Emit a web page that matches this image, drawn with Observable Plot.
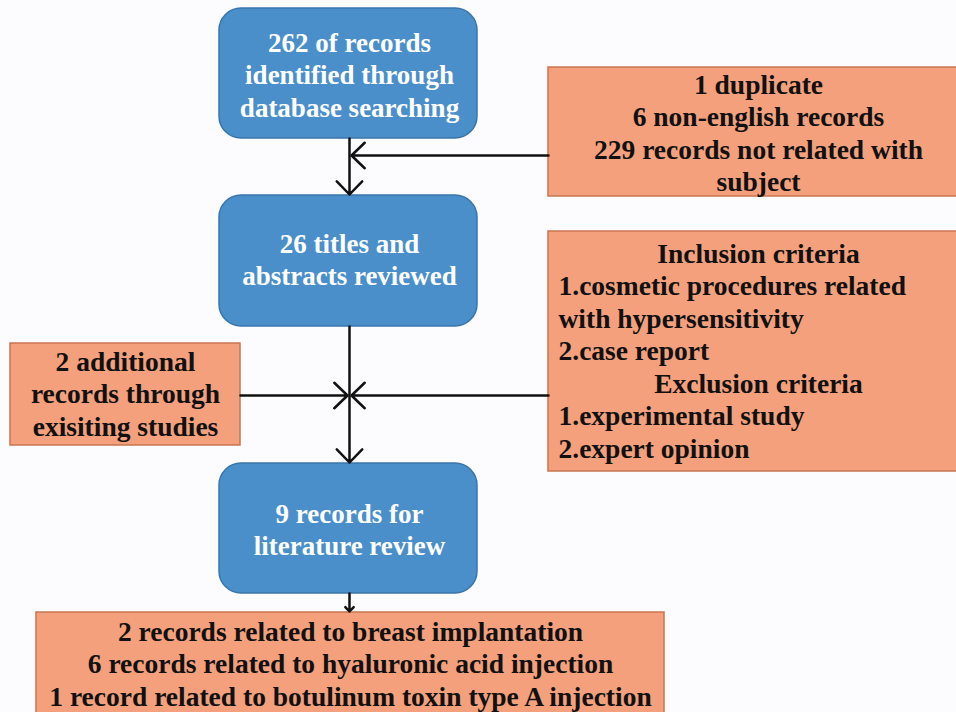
<!DOCTYPE html>
<html>
<head>
<meta charset="utf-8">
<script src="https://cdn.jsdelivr.net/npm/d3@7"></script>
<script src="https://cdn.jsdelivr.net/npm/@observablehq/plot@0.6"></script>
<style>
  html, body { margin: 0; padding: 0; background: #fcfcfe; overflow: hidden; }
  #chart svg { display: block; }
</style>
</head>
<body>
<div id="chart"></div>
<script>
// ---- content (text of each flowchart node) ----
const nodeIds = ["search", "screen", "review", "excluded", "criteria", "additional", "result"];
const nodeKinds = ["main", "main", "main", "side", "side", "side", "side"];
const nodeLines = [
  ["262 of records", "identified through", "database searching"],
  ["26 titles and", "abstracts reviewed"],
  ["9 records for", "literature review"],
  ["1 duplicate", "6 non-english records", "229 records not related with", "subject"],
  ["Inclusion criteria", "1.cosmetic procedures related", "with hypersensitivity", "2.case report",
   "Exclusion criteria", "1.experimental study", "2.expert opinion"],
  ["2 additional", "records through", "exisiting studies"],
  ["2 records related to breast implantation", "6 records related to hyaluronic acid injection",
   "1 record related to botulinum toxin type A injection"]
];
// alignment of lines in the criteria box: headings centred, items left
const criteriaAlign = ["middle", "start", "start", "start", "middle", "start", "start"];

// ---- layout (page units, y downward) ----
const layout = {
  search:     {x1: 219, x2: 477, y1: 8,   y2: 138, cx: 349, cy: 75},
  screen:     {x1: 219, x2: 477, y1: 195, y2: 326, cx: 349, cy: 260},
  review:     {x1: 219, x2: 477, y1: 463, y2: 593, cx: 349, cy: 530},
  excluded:   {x1: 548, x2: 968, y1: 67,  y2: 196, cx: 758, cy: 133},
  criteria:   {x1: 548, x2: 968, y1: 231, y2: 471, cx: 758, cy: 351},
  additional: {x1: 10,  x2: 240, y1: 343, y2: 445, cx: 125, cy: 394},
  result:     {x1: 36,  x2: 664, y1: 612, y2: 722, cx: 350, cy: 664}
};
const lineStep = 32.5;
const spineX = 349;

const boxes = nodeIds.map((id, i) => ({id, kind: nodeKinds[i], ...layout[id]}));

const lines = [];
nodeIds.forEach((id, i) => {
  const b = layout[id];
  const n = nodeLines[i].length;
  nodeLines[i].forEach((t, j) => {
    const align = id === "criteria" ? criteriaAlign[j] : "middle";
    lines.push({
      text: t,
      kind: nodeKinds[i],
      anchor: align,
      x: align === "start" ? b.x1 + 10 : b.cx,
      y: b.cy + (j - (n - 1) / 2) * lineStep
    });
  });
});

const arrows = [
  {x1: spineX, y1: layout.search.y2, x2: spineX, y2: layout.screen.y1 - 1},
  {x1: layout.excluded.x1, y1: 155, x2: spineX + 2, y2: 155},
  {x1: spineX, y1: layout.screen.y2, x2: spineX, y2: layout.review.y1 - 1},
  {x1: layout.additional.x2, y1: 395, x2: spineX - 2, y2: 395},
  {x1: layout.criteria.x1, y1: 395, x2: spineX + 2, y2: 395},
  {x1: spineX, y1: layout.review.y2, x2: spineX, y2: layout.result.y1 - 1}
];

const font = "Liberation Serif";

const chart = Plot.plot({
  width: 956,
  height: 712,
  margin: 0,
  x: {domain: [0, 956], axis: null},
  y: {domain: [0, 712], reverse: true, axis: null},
  style: {background: "#fcfcfe", fontFamily: "Liberation Serif, serif", fontWeight: "bold"},
  marks: [
    Plot.rect(boxes.filter(d => d.kind === "side"), {
      x1: "x1", x2: "x2", y1: "y1", y2: "y2",
      fill: "#f4a07c", stroke: "#c87552", strokeWidth: 1.5, clip: true
    }),
    Plot.rect(boxes.filter(d => d.kind === "main"), {
      x1: "x1", x2: "x2", y1: "y1", y2: "y2", rx: 22, ry: 22,
      fill: "#4a8fca", stroke: "#3a76ad", strokeWidth: 1.5
    }),
    Plot.arrow(arrows, {
      x1: "x1", y1: "y1", x2: "x2", y2: "y2",
      stroke: "#111", strokeWidth: 2.5, headLength: 11, headAngle: 88
    }),
    Plot.text(lines.filter(d => d.kind === "main"), {
      x: "x", y: "y", text: "text", textAnchor: "middle",
      fill: "white", fontSize: 27, fontWeight: "bold", fontFamily: font
    }),
    Plot.text(lines.filter(d => d.kind === "side" && d.anchor === "middle"), {
      x: "x", y: "y", text: "text", textAnchor: "middle",
      fill: "#111", fontSize: 27.5, fontWeight: "bold", fontFamily: font
    }),
    Plot.text(lines.filter(d => d.kind === "side" && d.anchor === "start"), {
      x: "x", y: "y", text: "text", textAnchor: "start",
      fill: "#111", fontSize: 27.5, fontWeight: "bold", fontFamily: font
    })
  ]
});
// drop Plot's default class stylesheet (system-ui font) and pin the serif font on every text
const defaultStyle = chart.querySelector("style");
if (defaultStyle) defaultStyle.remove();
d3.select(chart).selectAll("text")
  .attr("font-family", font)
  .attr("font-weight", "bold")
  .style("font-family", "'Liberation Serif', serif")
  .style("font-weight", "bold");
document.getElementById("chart").append(chart);
</script>
</body>
</html>
